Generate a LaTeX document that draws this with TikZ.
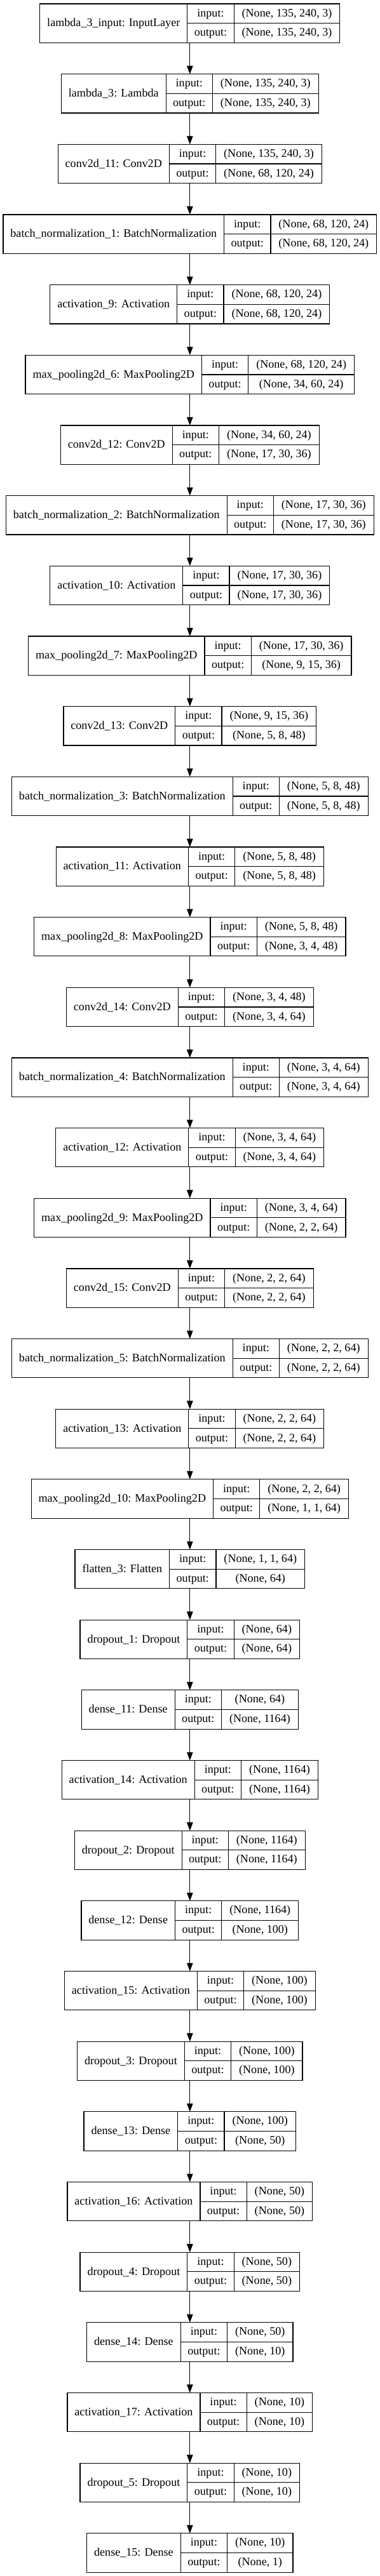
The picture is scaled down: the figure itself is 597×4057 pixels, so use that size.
\documentclass[tikz,border=0pt]{standalone}
\usepackage{fontspec}
\setmainfont{Liberation Serif}
\usetikzlibrary{arrows.meta}
\newlength\tmpa \newlength\tmpb
\newcommand\lfont{\fontsize{18.1}{21}\selectfont}
\def\cx{298.8}
\tikzset{
  box/.style={draw=black, line width=1.2pt, inner sep=0pt, outer sep=0pt},
  cell/.style={draw=black, line width=1.2pt, inner sep=0pt, outer sep=0pt},
  txt/.style={inner sep=0pt, outer sep=0pt, font=\lfont, text=black},
  arr/.style={line width=1.2pt, draw=black, -{Triangle[length=13pt,width=9.5pt]}}
}
\newcommand\meas[5]{%
 \settowidth\tmpa{\normalfont\lfont #2}%
 \expandafter\xdef\csname LW@#1\endcsname{\the\tmpa}%
 \settowidth\tmpa{\normalfont\lfont #3}%
 \settowidth\tmpb{\normalfont\lfont #4}%
 \ifdim\tmpa<\tmpb \tmpa=\tmpb\fi
 \expandafter\xdef\csname CW@#1\endcsname{\the\tmpa}%
}
\newcommand\layer[5]{%
 \pgfmathsetmacro\Lw{\csname LW@#1\endcsname+23}%
 \pgfmathsetmacro\Cw{\csname CW@#1\endcsname+25}%
 \pgfmathsetmacro\W{\Lw+73.3+\Cw}%
 \pgfmathsetmacro\yt{6+110.66*#5}%
 \node[box, minimum width=\W pt, minimum height=61.3pt, anchor=north] (#1) at (\cx,\yt) {};
 \node[cell, minimum width=\Lw pt, minimum height=61.3pt, anchor=north west] (#1l) at (#1.north west) {};
 \node[cell, minimum width=73.3pt, minimum height=30.65pt, anchor=north west] (#1a) at (#1l.north east) {};
 \node[cell, minimum width=73.3pt, minimum height=30.65pt, anchor=north west] (#1b) at (#1a.south west) {};
 \node[cell, minimum width=\Cw pt, minimum height=30.65pt, anchor=north west] (#1c) at (#1a.north east) {};
 \node[cell, minimum width=\Cw pt, minimum height=30.65pt, anchor=north west] (#1d) at (#1c.south west) {};
 \node[txt, anchor=base] (#1lt) at ([yshift=-5.3pt]#1l.center) {#2};
 \node[txt, anchor=base] (#1at) at ([yshift=-4.8pt]#1a.center) {input:};
 \node[txt, anchor=base] (#1bt) at ([yshift=-4.8pt]#1b.center) {output:};
 \node[txt, anchor=base] (#1ct) at ([yshift=-4.8pt]#1c.center) {#3};
 \node[txt, anchor=base] (#1dt) at ([yshift=-4.8pt]#1d.center) {#4};
}
\def\alllayers{%
\LL{n1}{lambda\_3\_input: InputLayer}{(None, 135, 240, 3)}{(None, 135, 240, 3)}{0}
\LL{n2}{lambda\_3: Lambda}{(None, 135, 240, 3)}{(None, 135, 240, 3)}{1}
\LL{n3}{conv2d\_11: Conv2D}{(None, 135, 240, 3)}{(None, 68, 120, 24)}{2}
\LL{n4}{batch\_normalization\_1: BatchNormalization}{(None, 68, 120, 24)}{(None, 68, 120, 24)}{3}
\LL{n5}{activation\_9: Activation}{(None, 68, 120, 24)}{(None, 68, 120, 24)}{4}
\LL{n6}{max\_pooling2d\_6: MaxPooling2D}{(None, 68, 120, 24)}{(None, 34, 60, 24)}{5}
\LL{n7}{conv2d\_12: Conv2D}{(None, 34, 60, 24)}{(None, 17, 30, 36)}{6}
\LL{n8}{batch\_normalization\_2: BatchNormalization}{(None, 17, 30, 36)}{(None, 17, 30, 36)}{7}
\LL{n9}{activation\_10: Activation}{(None, 17, 30, 36)}{(None, 17, 30, 36)}{8}
\LL{n10}{max\_pooling2d\_7: MaxPooling2D}{(None, 17, 30, 36)}{(None, 9, 15, 36)}{9}
\LL{n11}{conv2d\_13: Conv2D}{(None, 9, 15, 36)}{(None, 5, 8, 48)}{10}
\LL{n12}{batch\_normalization\_3: BatchNormalization}{(None, 5, 8, 48)}{(None, 5, 8, 48)}{11}
\LL{n13}{activation\_11: Activation}{(None, 5, 8, 48)}{(None, 5, 8, 48)}{12}
\LL{n14}{max\_pooling2d\_8: MaxPooling2D}{(None, 5, 8, 48)}{(None, 3, 4, 48)}{13}
\LL{n15}{conv2d\_14: Conv2D}{(None, 3, 4, 48)}{(None, 3, 4, 64)}{14}
\LL{n16}{batch\_normalization\_4: BatchNormalization}{(None, 3, 4, 64)}{(None, 3, 4, 64)}{15}
\LL{n17}{activation\_12: Activation}{(None, 3, 4, 64)}{(None, 3, 4, 64)}{16}
\LL{n18}{max\_pooling2d\_9: MaxPooling2D}{(None, 3, 4, 64)}{(None, 2, 2, 64)}{17}
\LL{n19}{conv2d\_15: Conv2D}{(None, 2, 2, 64)}{(None, 2, 2, 64)}{18}
\LL{n20}{batch\_normalization\_5: BatchNormalization}{(None, 2, 2, 64)}{(None, 2, 2, 64)}{19}
\LL{n21}{activation\_13: Activation}{(None, 2, 2, 64)}{(None, 2, 2, 64)}{20}
\LL{n22}{max\_pooling2d\_10: MaxPooling2D}{(None, 2, 2, 64)}{(None, 1, 1, 64)}{21}
\LL{n23}{flatten\_3: Flatten}{(None, 1, 1, 64)}{(None, 64)}{22}
\LL{n24}{dropout\_1: Dropout}{(None, 64)}{(None, 64)}{23}
\LL{n25}{dense\_11: Dense}{(None, 64)}{(None, 1164)}{24}
\LL{n26}{activation\_14: Activation}{(None, 1164)}{(None, 1164)}{25}
\LL{n27}{dropout\_2: Dropout}{(None, 1164)}{(None, 1164)}{26}
\LL{n28}{dense\_12: Dense}{(None, 1164)}{(None, 100)}{27}
\LL{n29}{activation\_15: Activation}{(None, 100)}{(None, 100)}{28}
\LL{n30}{dropout\_3: Dropout}{(None, 100)}{(None, 100)}{29}
\LL{n31}{dense\_13: Dense}{(None, 100)}{(None, 50)}{30}
\LL{n32}{activation\_16: Activation}{(None, 50)}{(None, 50)}{31}
\LL{n33}{dropout\_4: Dropout}{(None, 50)}{(None, 50)}{32}
\LL{n34}{dense\_14: Dense}{(None, 50)}{(None, 10)}{33}
\LL{n35}{activation\_17: Activation}{(None, 10)}{(None, 10)}{34}
\LL{n36}{dropout\_5: Dropout}{(None, 10)}{(None, 10)}{35}
\LL{n37}{dense\_15: Dense}{(None, 10)}{(None, 1)}{36}
}
\begin{document}
\let\LL\meas
\alllayers
\begin{tikzpicture}[x=1pt,y=-1pt]
\fill[white] (0,0) rectangle (597,4057);
\useasboundingbox (0,0) rectangle (597,4057);
\let\LL\layer
\alllayers
\foreach \i [evaluate=\i as \j using int(\i+1)] in {1,...,36} {
  \draw[arr] (n\i) -- (n\j);
}
\end{tikzpicture}
\end{document}
